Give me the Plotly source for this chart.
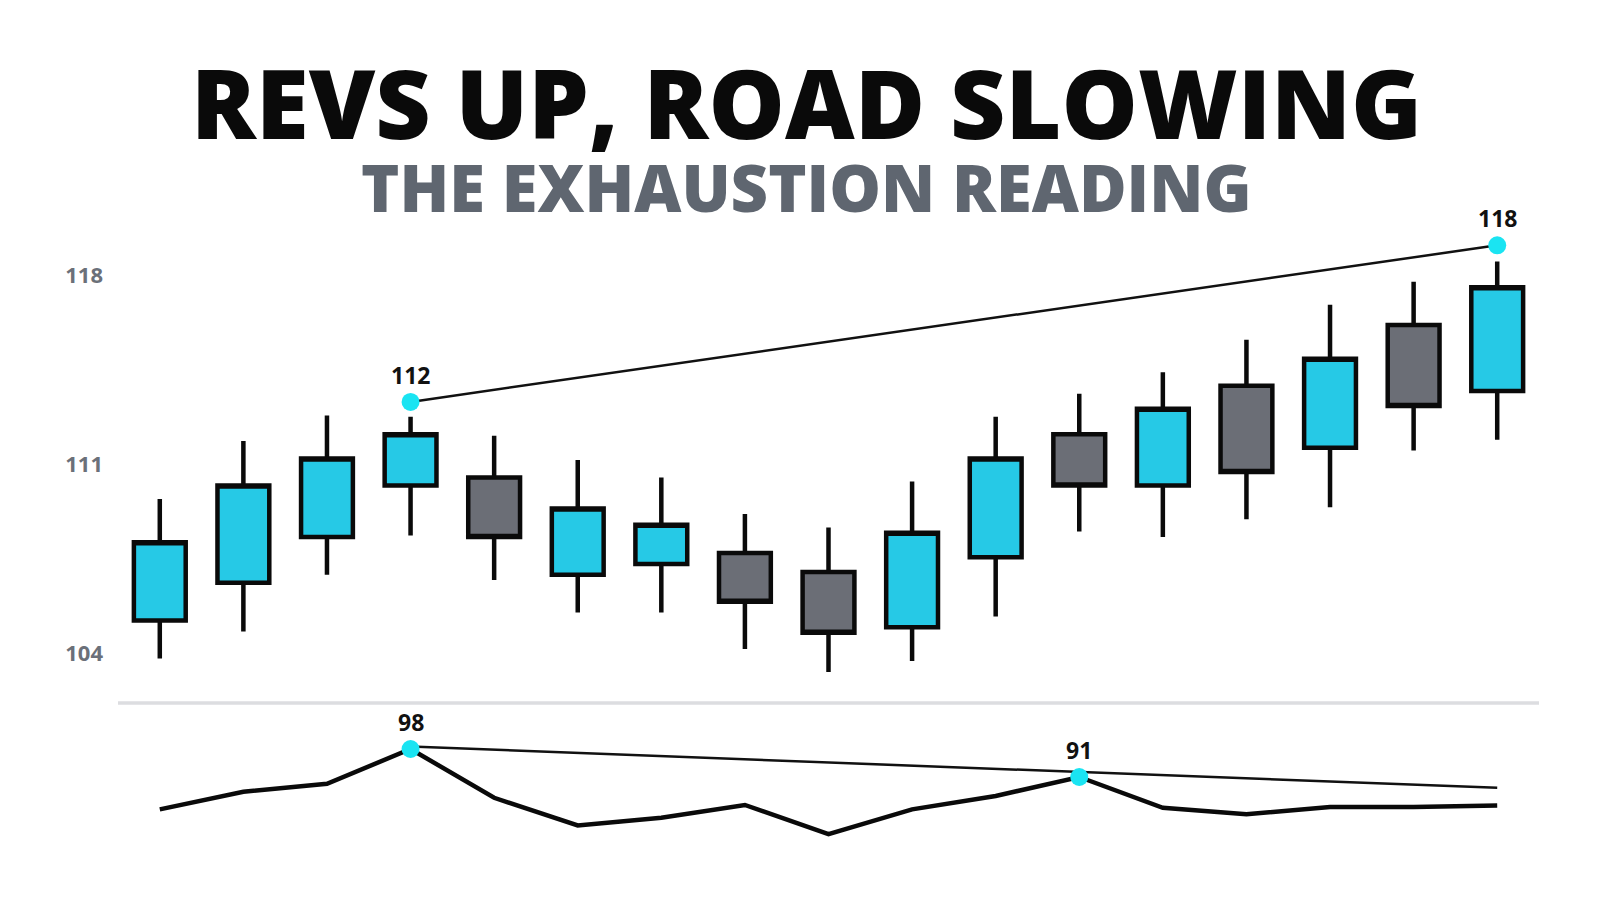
import plotly.graph_objects as go

# ---------------- data ----------------
idx = list(range(17))
opens  = [105.2, 106.6, 108.3, 110.2, 110.5, 106.9, 107.3, 107.7, 107.0, 104.95, 107.55, 112.1, 110.2, 113.9, 111.6, 116.15, 113.7]
highs  = [109.7, 111.85, 112.8, 112.75, 112.05, 111.15, 110.5, 109.15, 108.65, 110.35, 112.75, 113.6, 114.4, 115.6, 116.9, 117.75, 118.5]
lows   = [103.8, 104.8, 106.9, 108.35, 106.7, 105.5, 105.5, 104.15, 103.3, 103.7, 105.35, 108.5, 108.3, 108.95, 109.4, 111.5, 111.9]
closes = [108.1, 110.2, 111.2, 112.1, 108.3, 109.35, 108.75, 105.9, 104.75, 108.45, 111.2, 110.2, 113.05, 110.7, 114.9, 113.15, 117.55]

osc = [82.9, 87.3, 89.3, 98.0, 85.8, 78.9, 80.8, 84.0, 76.7, 82.9, 86.25, 91.0, 83.3, 81.7, 83.5, 83.5, 83.9]

price_peak_x = [3, 16]
price_peak_y = [113.3, 119.1]
price_peak_txt = ["112", "118"]

osc_peak_x = [3, 11]
osc_peak_y = [98.0, 91.0]
osc_peak_txt = ["98", "91"]
osc_div_x = [3, 16]
osc_div_y = [98.6, 88.3]

y_ticks = [104, 111, 118]
y_tick_txt = ["104", "111", "118"]

title = "REVS UP, ROAD SLOWING"
subtitle = "THE EXHAUSTION READING"

# ---------------- style ----------------
CYAN = "#26c9e6"
GRAY = "#6b6e76"
DOT = "#1ae4f2"
W, H = 1600, 914
ML, MR = 110, 69
TOP = 218      # top of price panel (px)
SEP = 695      # separator (px)
BOT = 843      # bottom of oscillator panel (px)
TITLE_CX = 798  # horizontal centre of the headings (px)
title_xpaper = (TITLE_CX - ML) / (W - ML - MR)

fig = go.Figure()

fig.add_trace(go.Candlestick(
    x=idx, open=opens, high=highs, low=lows, close=closes,
    increasing=dict(line=dict(color="#0a0a0a", width=4.5), fillcolor=CYAN),
    decreasing=dict(line=dict(color="#0a0a0a", width=4.5), fillcolor=GRAY),
    whiskerwidth=0, showlegend=False, hoverinfo="skip",
    xaxis="x", yaxis="y",
))

fig.add_trace(go.Scatter(
    x=price_peak_x, y=price_peak_y, mode="lines",
    line=dict(color="#111111", width=2.5), showlegend=False, hoverinfo="skip",
    xaxis="x", yaxis="y",
))
fig.add_trace(go.Scatter(
    x=price_peak_x, y=price_peak_y, mode="markers",
    marker=dict(color=DOT, size=18, line=dict(width=0)), showlegend=False, hoverinfo="skip",
    xaxis="x", yaxis="y", cliponaxis=False,
))

fig.add_trace(go.Scatter(
    x=osc_div_x, y=osc_div_y, mode="lines",
    line=dict(color="#111111", width=2.5), showlegend=False, hoverinfo="skip",
    xaxis="x", yaxis="y2",
))
fig.add_trace(go.Scatter(
    x=idx, y=osc, mode="lines",
    line=dict(color="#0a0a0a", width=4.5), showlegend=False, hoverinfo="skip",
    xaxis="x", yaxis="y2",
))
fig.add_trace(go.Scatter(
    x=osc_peak_x, y=osc_peak_y, mode="markers",
    marker=dict(color=DOT, size=18, line=dict(width=0)), showlegend=False, hoverinfo="skip",
    xaxis="x", yaxis="y2", cliponaxis=False,
))

annotations = []
for xv, yv, t in zip(price_peak_x, price_peak_y, price_peak_txt):
    annotations.append(dict(x=xv, y=yv, xref="x", yref="y", text=t, showarrow=False,
                            yshift=27, font=dict(family="Open Sans", size=23, color="#111111", weight=700)))
for xv, yv, t in zip(osc_peak_x, osc_peak_y, osc_peak_txt):
    annotations.append(dict(x=xv, y=yv, xref="x", yref="y2", text=t, showarrow=False,
                            yshift=27, font=dict(family="Open Sans", size=23, color="#111111", weight=700)))

annotations.append(dict(x=title_xpaper, y=1 - 93 / H, xref="paper", yref="paper", text=title, showarrow=False,
                        xanchor="center", yanchor="middle",
                        font=dict(family="Open Sans", size=96, color="#0a0a0a", weight=800)))
annotations.append(dict(x=title_xpaper, y=1 - 179 / H, xref="paper", yref="paper", text=subtitle, showarrow=False,
                        xanchor="center", yanchor="middle",
                        font=dict(family="Open Sans", size=65, color="#5f6670", weight=800)))

shapes = [dict(type="line", xref="paper", yref="paper", x0=0, x1=1, y0=1 - SEP / H, y1=1 - SEP / H,
               line=dict(color="#dcdde0", width=3.5))]

PX_PER_UNIT = 27.0
OSC_PX = 4.0
fig.update_layout(
    width=W, height=H,
    margin=dict(l=ML, r=MR, t=0, b=0),
    paper_bgcolor="white", plot_bgcolor="white",
    boxgap=0.38, boxgroupgap=0,
    xaxis=dict(range=[-0.5, 16.5], visible=False, rangeslider=dict(visible=False), anchor="y2",
               showgrid=False, zeroline=False),
    yaxis=dict(domain=[1 - SEP / H, 1 - TOP / H],
               range=[111 - (SEP - 456) / PX_PER_UNIT, 111 + (456 - TOP) / PX_PER_UNIT],
               tickvals=y_ticks, ticktext=y_tick_txt, showgrid=False, zeroline=False, showline=False,
               ticks="", ticklabelstandoff=14,
               tickfont=dict(family="Open Sans", size=22, color="#6b7079", weight=700)),
    yaxis2=dict(domain=[1 - BOT / H, 1 - SEP / H],
                range=[98 - (BOT - 741) / OSC_PX, 98 + (741 - SEP) / OSC_PX],
                visible=False, showgrid=False, zeroline=False),
    annotations=annotations, shapes=shapes,
)

fig.write_html("out.html")
